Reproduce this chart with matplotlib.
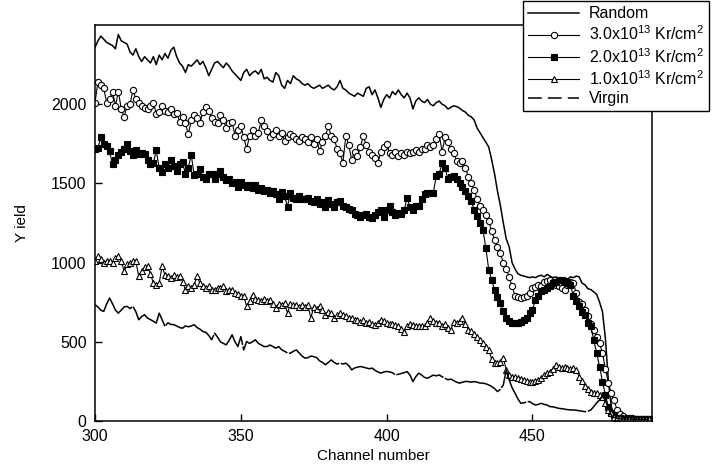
import numpy as np
import matplotlib
matplotlib.use("Agg")
import matplotlib.pyplot as plt

plt.rcParams['font.family'] = ['Liberation Sans', 'DejaVu Sans']
plt.rcParams['mathtext.fontset'] = 'custom'
plt.rcParams['mathtext.rm'] = 'Liberation Sans'
plt.rcParams['mathtext.default'] = 'regular'

# channel numbers, one value per channel
channel = np.arange(300, 491)

random_yield = [
    2360, 2400, 2430, 2410, 2390, 2380, 2370, 2350, 2440, 2400,
    2390, 2380, 2330, 2310, 2350, 2300, 2270, 2300, 2280, 2260,
    2300, 2250, 2310, 2280, 2320, 2290, 2340, 2360, 2300, 2260,
    2240, 2200, 2250, 2240, 2260, 2280, 2250, 2270, 2230, 2180,
    2220, 2260, 2270, 2250, 2230, 2260, 2240, 2210, 2190, 2170,
    2150, 2200, 2220, 2180, 2200, 2210, 2190, 2220, 2160, 2170,
    2150, 2140, 2200, 2180, 2120, 2100, 2150, 2130, 2180, 2160,
    2150, 2130, 2120, 2130, 2110, 2100, 2110, 2120, 2100, 2110,
    2120, 2100, 2090, 2110, 2150, 2100, 2090, 2070, 2060, 2050,
    2070, 2060, 2050, 2100, 2110, 2060, 2090, 2040, 1980, 2030,
    2060, 2040, 2080, 2060, 2090, 2060, 2040, 2070, 2040, 1970,
    2020, 2040, 2020, 2010, 2030, 2000, 1990, 2010, 2020, 2000,
    1990, 1970, 1980, 1990, 1985, 1975, 1960, 1950, 1930, 1920,
    1900, 1850, 1820, 1790, 1760, 1730, 1650, 1560, 1450, 1360,
    1250, 1150, 1100, 1000, 960, 930, 920, 915, 910, 905,
    910, 905, 915, 920, 910, 925, 915, 905, 910, 900,
    905, 900, 895, 910, 905, 915, 910, 870, 860, 835,
    830, 815, 800, 750, 690, 520, 260, 90, 40, 25,
    20, 18, 16, 15, 15, 14, 14, 13, 13, 12, 12,
]

kr_3e13 = [
    2010, 2140, 2120, 2100, 2010, 2030, 2080, 1990, 2080, 1970,
    1920, 1990, 2000, 2090, 2030, 2010, 1990, 1975, 1970, 1990,
    2010, 1940, 1950, 1990, 1960, 1950, 1970, 1940, 1945, 1890,
    1920, 1880, 1810, 1900, 1930, 1910, 1880, 1950, 1980, 1960,
    1910, 1890, 1880, 1930, 1900, 1850, 1880, 1890, 1800, 1840,
    1860, 1790, 1720, 1800, 1840, 1800, 1820, 1900, 1860, 1830,
    1790, 1810, 1840, 1800, 1820, 1770, 1790, 1810, 1800, 1780,
    1770, 1790, 1780, 1760, 1790, 1750, 1780, 1705, 1760, 1800,
    1860, 1800, 1780, 1720, 1690, 1630, 1800, 1740, 1650, 1700,
    1670, 1730, 1800, 1740, 1700, 1680, 1660, 1630, 1700, 1730,
    1750, 1690, 1680, 1700, 1670, 1690, 1680, 1700, 1690, 1700,
    1710, 1700, 1715, 1720, 1740, 1730, 1740, 1780, 1810, 1700,
    1790, 1760, 1715, 1690, 1640, 1630, 1640, 1600, 1540, 1500,
    1460, 1400, 1360, 1330, 1300, 1260, 1200, 1140, 1100, 1060,
    1000, 960, 910, 850, 790, 780, 775, 780, 790, 805,
    840, 845, 860, 855, 880, 885, 890, 880, 860, 850,
    840, 830, 860, 880, 870, 810, 750, 740, 700, 660,
    610, 575, 530, 490, 430, 330, 240, 180, 130, 70,
    45, 30, 22, 18, 16, 15, 15, 14, 14, 13, 13,
]

kr_2e13 = [
    1715, 1725, 1790, 1746, 1734, 1703, 1620, 1646, 1677, 1700,
    1720, 1746, 1703, 1677, 1709, 1684, 1690, 1684, 1646, 1620,
    1627, 1709, 1595, 1570, 1620, 1600, 1650, 1610, 1580, 1620,
    1633, 1560, 1600, 1680, 1550, 1560, 1590, 1540, 1530, 1560,
    1557, 1525, 1560, 1580, 1540, 1520, 1530, 1500, 1510, 1480,
    1506, 1490, 1480, 1490, 1470, 1490, 1460, 1470, 1450, 1460,
    1440, 1450, 1430, 1400, 1443, 1420, 1354, 1440, 1410, 1400,
    1420, 1400, 1399, 1410, 1390, 1380, 1400, 1370, 1380, 1350,
    1398, 1370, 1348, 1380, 1390, 1360, 1350, 1340, 1330, 1310,
    1300, 1290, 1300, 1310, 1285, 1280, 1300, 1320, 1335, 1291,
    1330, 1357, 1320, 1300, 1315, 1310, 1330, 1409, 1350, 1330,
    1360, 1357, 1400, 1430, 1441, 1440, 1441, 1546, 1560, 1631,
    1600, 1525, 1540, 1546, 1530, 1504, 1480, 1451, 1420, 1388,
    1335, 1293, 1250, 1209, 1093, 956, 892, 829, 780, 745,
    692, 650, 630, 618, 618, 620, 628, 640, 650, 680,
    702, 766, 790, 818, 830, 840, 850, 870, 880, 892,
    890, 882, 870, 861, 787, 760, 724, 690, 671, 620,
    597, 513, 428, 344, 249, 165, 91, 50, 38, 22,
    17, 15, 14, 13, 13, 12, 12, 12, 11, 11, 11,
]

kr_1e13 = [
    1008, 1040, 1020, 1000, 1010, 1008, 1000, 1030, 1040, 1010,
    945, 990, 1000, 1010, 1008, 913, 950, 970, 977, 930,
    871, 861, 870, 977, 920, 913, 900, 920, 910, 913,
    880, 829, 850, 840, 860, 913, 870, 850, 840, 850,
    830, 829, 840, 840, 850, 820, 830, 829, 810, 800,
    787, 787, 724, 760, 797, 770, 766, 760, 770, 760,
    766, 740, 713, 740, 730, 745, 681, 740, 730, 734,
    720, 734, 720, 734, 650, 720, 710, 724, 700, 671,
    690, 680, 650, 670, 680, 671, 660, 650, 650, 640,
    640, 628, 635, 620, 625, 610, 608, 620, 639, 630,
    618, 610, 615, 608, 600, 580, 565, 600, 610, 608,
    600, 597, 600, 597, 620, 650, 630, 620, 618, 600,
    610, 590, 576, 628, 620, 630, 650, 610, 576, 570,
    550, 530, 510, 492, 470, 449, 390, 365, 365, 370,
    397, 323, 290, 281, 275, 270, 265, 260, 255, 249,
    249, 255, 260, 270, 290, 302, 310, 330, 355, 340,
    334, 340, 334, 330, 334, 323, 281, 250, 218, 200,
    186, 180, 176, 165, 154, 112, 70, 49, 28, 20,
    16, 15, 14, 13, 13, 12, 12, 12, 11, 11, 11,
]

virgin_yield = [
    734, 720, 700, 692, 740, 776, 740, 700, 681, 700,
    720, 724, 710, 724, 690, 639, 660, 671, 650, 640,
    630, 618, 681, 640, 597, 620, 610, 608, 600, 590,
    586, 600, 595, 600, 608, 590, 580, 565, 560, 540,
    513, 555, 530, 500, 490, 481, 510, 544, 500, 470,
    533, 449, 502, 490, 500, 513, 490, 480, 470, 470,
    480, 470, 460, 470, 450, 440, 430, 428, 440, 449,
    430, 410, 397, 400, 410, 407, 400, 380, 370, 355,
    370, 386, 370, 360, 365, 360, 365, 350, 323, 335,
    340, 344, 340, 335, 330, 334, 320, 310, 302, 310,
    313, 310, 305, 291, 295, 300, 305, 312, 290, 249,
    280, 302, 290, 275, 270, 280, 290, 285, 291, 280,
    270, 260, 265, 255, 245, 239, 245, 250, 249, 245,
    249, 245, 240, 239, 235, 228, 218, 205, 186, 200,
    228, 323, 260, 210, 176, 140, 112, 115, 120, 123,
    110, 101, 105, 112, 105, 101, 91, 90, 85, 80,
    78, 75, 72, 70, 70, 68, 65, 62, 59, 62,
    70, 91, 115, 133, 154, 133, 80, 38, 22, 16,
    14, 13, 12, 12, 12, 11, 11, 11, 10, 10, 10,
]

fig = plt.figure(figsize=(7.16, 4.76), dpi=100)
ax = fig.add_axes([0.1327, 0.1155, 0.778, 0.832])

ax.plot(channel, random_yield, color='black', lw=1.1, label='Random')
ax.plot(channel, kr_3e13, color='black', lw=0.8, marker='o', ms=4.5,
        mfc='white', mec='black', mew=0.8,
        label='3.0x10$^{13}$ Kr/cm$^2$')
ax.plot(channel, kr_2e13, color='black', lw=0.8, marker='s', ms=4.0,
        mfc='black', mec='black', mew=0.8,
        label='2.0x10$^{13}$ Kr/cm$^2$')
ax.plot(channel, kr_1e13, color='black', lw=0.8, marker='^', ms=4.8,
        mfc='white', mec='black', mew=0.8,
        label='1.0x10$^{13}$ Kr/cm$^2$')
# virgin spectrum: long dashes with very short gaps, looks nearly solid
ax.plot(channel, virgin_yield, color='black', lw=1.1, dashes=(40, 1.0),
        label='Virgin')

ax.set_xlim(300, 491)
ax.set_ylim(0, 2500)
ax.set_xticks([300, 350, 400, 450])
ax.set_yticks([0, 500, 1000, 1500, 2000])
ax.tick_params(direction='in', length=5, width=1, labelsize=11.5, pad=6)
for s in ax.spines.values():
    s.set_linewidth(1.1)

ax.set_xlabel('Channel number', fontsize=11, labelpad=3)
ax.set_ylabel('Y ield', fontsize=11, labelpad=16)

leg = fig.legend(loc='upper left', bbox_to_anchor=(0.731, 0.997),
                 fontsize=11.5, frameon=True, fancybox=False,
                 edgecolor='black', framealpha=1, numpoints=1,
                 handlelength=3.2, borderpad=0.3, labelspacing=0.22,
                 handletextpad=0.6, borderaxespad=0)
leg.get_frame().set_linewidth(1.0)
# the legend handle for Virgin is shown with clear dashes
leg.get_lines()[4].set_dashes((9, 4))

fig.savefig('out.png', dpi=100)
